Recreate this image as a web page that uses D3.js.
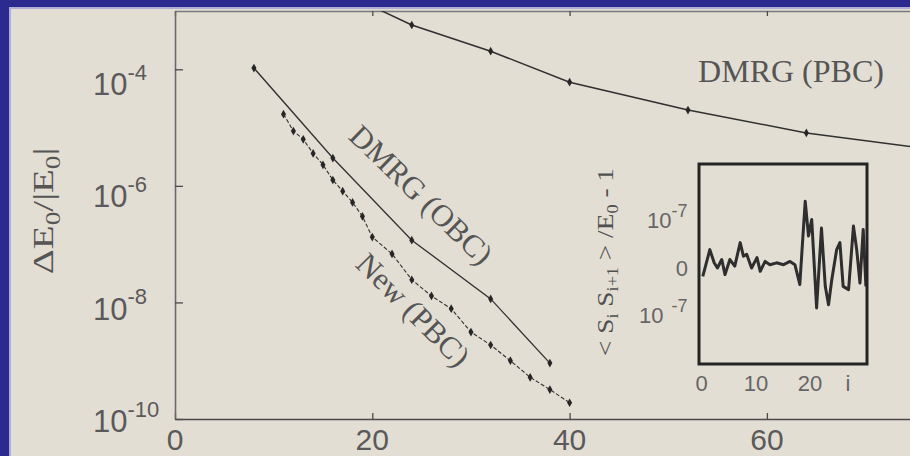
<!DOCTYPE html>
<html>
<head>
<meta charset="utf-8">
<script src="https://cdn.jsdelivr.net/npm/d3@7"></script>
<style>
  html, body { margin: 0; padding: 0; background: #2b2a8e; }
  svg { display: block; }
</style>
</head>
<body>
<svg id="chart" width="910" height="456"></svg>
<script>
// Energy error ΔE0/|E0| versus chain length L
const dmrgPbcL   = [16, 24, 32, 40, 52, 64, 76];
const dmrgPbcErr = [2.5e-3, 5.75e-4, 2.04e-4, 6.0e-5, 2.0e-5, 8.1e-6, 4.4e-6];

const dmrgObcL   = [8, 16, 24, 32, 38];
const dmrgObcErr = [1.05e-4, 3.0e-6, 1.17e-7, 1.15e-8, 9.1e-10];

const newPbcL   = [11, 12, 13, 14, 15, 16, 17, 18, 19, 20, 22, 24, 26, 28, 30, 32, 34, 36, 38, 40];
const newPbcErr = [1.70e-5, 8.7e-6, 6.3e-6, 3.6e-6, 2.3e-6, 1.26e-6, 8.1e-7, 5.2e-7, 3.0e-7, 1.32e-7,
                   6.8e-8, 2.45e-8, 1.29e-8, 7.8e-9, 3.1e-9, 1.86e-9, 1.0e-9, 5.2e-10, 3.2e-10, 1.9e-10];

// Axis ticks
const xTicks = [0, 20, 40, 60, 80];
const yTicks = [1e-4, 1e-6, 1e-8, 1e-10];
const yTickExp = ["-4", "-6", "-8", "-10"];

// Inset: bond energy deviation <S_i S_i+1>/E0 - 1 (units of 1e-7) along the ring
const insetSite = [0.2, 1.5, 2.3, 2.9, 3.7, 4.3, 5.2, 6.1, 7.1, 7.7, 8.3, 9.2, 10.2, 10.8, 11.7, 12.6, 13.8,
                   15.1, 16.3, 17.2, 18.1, 19.1, 19.7, 20.3, 21.2, 22.1, 22.8, 23.4, 24.0, 24.9, 25.5, 26.1,
                   27.1, 28.0, 28.6, 29.2, 29.8, 30.3];
const insetDev  = [-0.19, 0.38, 0.10, -0.01, 0.17, -0.15, 0.17, 0.03, 0.53, 0.24, 0.28, -0.01, 0.21, -0.08,
                   0.13, 0.06, 0.10, 0.06, 0.13, 0.06, -0.36, 1.41, 0.67, 1.02, -0.86, 0.84, -0.40, -0.79,
                   -0.26, 0.38, 0.53, -0.40, -0.47, 0.88, 0.38, -0.33, 0.81, -0.40];
const insetXTicks = [0, 10, 20];
const insetYTicks = [1, 0, -1];

const svg = d3.select("#chart");
const W = 910, H = 456;
const BG = "#e3ded4", INK = "#303030", TXT = "#5a5a5a";
const SANS = "'Liberation Sans', Arial, sans-serif";
const SERIF = "'Liberation Serif', 'Times New Roman', serif";

// Slide frame
svg.append("rect").attr("width", W).attr("height", H).attr("fill", "#2b2a8e");
svg.append("rect").attr("x", 9).attr("y", 7).attr("width", W - 9).attr("height", H - 7).attr("fill", "#aeaed6");
svg.append("rect").attr("x", 11).attr("y", 9).attr("width", W - 11).attr("height", H - 9).attr("fill", BG);

// Scales
const x = d3.scaleLinear().domain([0, 80]).range([175, 175 + 80 * 9.865]);
const y = d3.scaleLog().domain([1e-10, 1e-3]).range([419, 11]);
const yLabel = d3.scaleLog().domain([1e-10, 1e-4]).range([420.5, 83.5]);

// Axes
const axisStyle = g => {
  g.selectAll("text").remove();
  g.select(".domain").attr("stroke", "#4a4a4a").attr("stroke-width", 1.6);
  g.selectAll(".tick line").attr("stroke", "#4a4a4a").attr("stroke-width", 1.3);
};
svg.append("g").attr("transform", `translate(0,${y.range()[1]})`)
  .call(d3.axisTop(x).tickValues(xTicks).tickSizeInner(-5).tickSizeOuter(0))
  .call(axisStyle)
  .call(g => g.select(".domain").attr("stroke", "#7a7a7a").attr("stroke-width", 1.4));
svg.append("g").attr("transform", `translate(0,${y.range()[0]})`)
  .call(d3.axisBottom(x).tickValues(xTicks).tickSizeInner(-6).tickSizeOuter(0))
  .call(axisStyle);
svg.append("g").attr("transform", `translate(${x(0)},0)`)
  .call(d3.axisLeft(y).tickValues(yTicks).tickSizeInner(-8).tickSizeOuter(0))
  .call(axisStyle)
  .call(g => g.select(".domain").attr("stroke", "#6a6a6a"));

// Tick labels
svg.append("g").selectAll("text").data(xTicks.filter(d => x(d) < W)).join("text")
  .attr("x", d => x(d)).attr("y", 449.5)
  .attr("text-anchor", "middle")
  .attr("font-family", SANS).attr("font-size", 30).attr("fill", TXT)
  .text(d => d);

const yl = svg.append("g").selectAll("text").data(yTicks).join("text")
  .attr("x", 93).attr("y", d => yLabel(d) + 11.5)
  .attr("font-family", SANS).attr("font-size", 31).attr("fill", TXT);
yl.append("tspan").text("10");
yl.append("tspan").attr("font-size", 22).attr("dy", -15.5).text((d, i) => yTickExp[i]);

// Y axis title
const yt = svg.append("text")
  .attr("transform", "translate(53,211) rotate(-90) scale(1.3,1)")
  .attr("text-anchor", "middle")
  .attr("font-family", SERIF).attr("font-size", 30).attr("fill", "#555");
yt.append("tspan").text("ΔE");
yt.append("tspan").attr("font-size", 21).attr("dy", 7).text("0");
yt.append("tspan").attr("dy", -7).text("/|E");
yt.append("tspan").attr("font-size", 21).attr("dy", 7).text("0");
yt.append("tspan").attr("dy", -7).text("|");

// Data curves
svg.append("clipPath").attr("id", "plotClip")
  .append("rect").attr("x", x(0)).attr("y", y.range()[1]).attr("width", 800).attr("height", y.range()[0] - y.range()[1]);
const plot = svg.append("g").attr("clip-path", "url(#plotClip)");
const line = d3.line().x(d => x(d[0])).y(d => y(d[1]));
const diamond = d3.symbol().type(d3.symbolDiamond).size(22);

function series(Ls, vals, opts) {
  const pts = Ls.map((L, i) => [L, vals[i]]);
  plot.append("path").datum(pts)
    .attr("d", line).attr("fill", "none")
    .attr("stroke", INK).attr("stroke-width", opts.width)
    .attr("stroke-dasharray", opts.dash || null);
  plot.append("g").selectAll("path").data(pts).join("path")
    .attr("transform", d => `translate(${x(d[0])},${y(d[1])})`)
    .attr("d", diamond).attr("fill", "#262626");
}
series(dmrgPbcL, dmrgPbcErr, { width: 1.5 });
series(dmrgObcL, dmrgObcErr, { width: 1.3 });
series(newPbcL, newPbcErr, { width: 1.1, dash: "4,2" });

// Curve annotations
const note = (txt, tx, ty, rot, size) => svg.append("text")
  .attr("transform", `translate(${tx},${ty}) rotate(${rot})`)
  .attr("text-anchor", "middle").attr("dy", "0.33em")
  .attr("font-family", SERIF).attr("font-size", size).attr("fill", "#555")
  .text(txt);
note("DMRG (PBC)", 791, 71, 0, 32);
note("DMRG (OBC)", 421, 195, 44, 31);
note("New (PBC)", 413, 310, 45, 31);

// Inset
const ix = d3.scaleLinear().domain([-0.5, 30.5]).range([699, 867]);
const iy = d3.scaleLinear().domain([-2.05, 2.2]).range([364, 164]);
const inset = svg.append("g");
inset.append("path")
  .datum(insetSite.map((s, i) => [s, insetDev[i]]))
  .attr("d", d3.line().x(d => ix(d[0])).y(d => iy(d[1])))
  .attr("fill", "none").attr("stroke", "#2e2e2e").attr("stroke-width", 3)
  .attr("stroke-linejoin", "round");
inset.append("rect")
  .attr("x", ix.range()[0]).attr("y", iy.range()[1])
  .attr("width", ix.range()[1] - ix.range()[0]).attr("height", iy.range()[0] - iy.range()[1])
  .attr("fill", "none").attr("stroke", "#242424").attr("stroke-width", 3);

inset.append("g").selectAll("text").data(insetXTicks).join("text")
  .attr("x", d => ix(d)).attr("y", 391)
  .attr("text-anchor", "middle")
  .attr("font-family", SANS).attr("font-size", 22).attr("fill", "#666")
  .text(d => d);
inset.append("text").attr("x", ix(27)).attr("y", 391).attr("text-anchor", "middle")
  .attr("font-family", SANS).attr("font-size", 22).attr("fill", "#666").text("i");

const iyl = inset.append("g").selectAll("text").data(insetYTicks).join("text")
  .attr("x", d => d === 0 ? 688 : (d > 0 ? 647 : 639))
  .attr("y", d => iy(d) + 8)
  .attr("text-anchor", d => d === 0 ? "end" : "start")
  .attr("font-family", SANS).attr("font-size", 22).attr("fill", "#666");
iyl.append("tspan").text(d => d === 0 ? "0" : "10");
iyl.filter(d => d !== 0).append("tspan")
  .attr("font-size", 18).attr("dy", -11)
  .attr("dx", d => d < 0 ? 8 : 0)
  .text("-7");

// Inset y title
const it = svg.append("text")
  .attr("transform", "translate(613,262) rotate(-90) scale(1.14,1)")
  .attr("text-anchor", "middle")
  .attr("font-family", SERIF).attr("font-size", 24).attr("fill", "#505050");
it.append("tspan").text("<  S");
it.append("tspan").attr("font-size", 16).attr("dy", 5).text("i");
it.append("tspan").attr("dy", -5).text(" S");
it.append("tspan").attr("font-size", 16).attr("dy", 5).text("i+1");
it.append("tspan").attr("dy", -5).text(" >  /E");
it.append("tspan").attr("font-size", 16).attr("dy", 5).text("0");
it.append("tspan").attr("dy", -5).text(" - 1");
</script>
</body>
</html>
